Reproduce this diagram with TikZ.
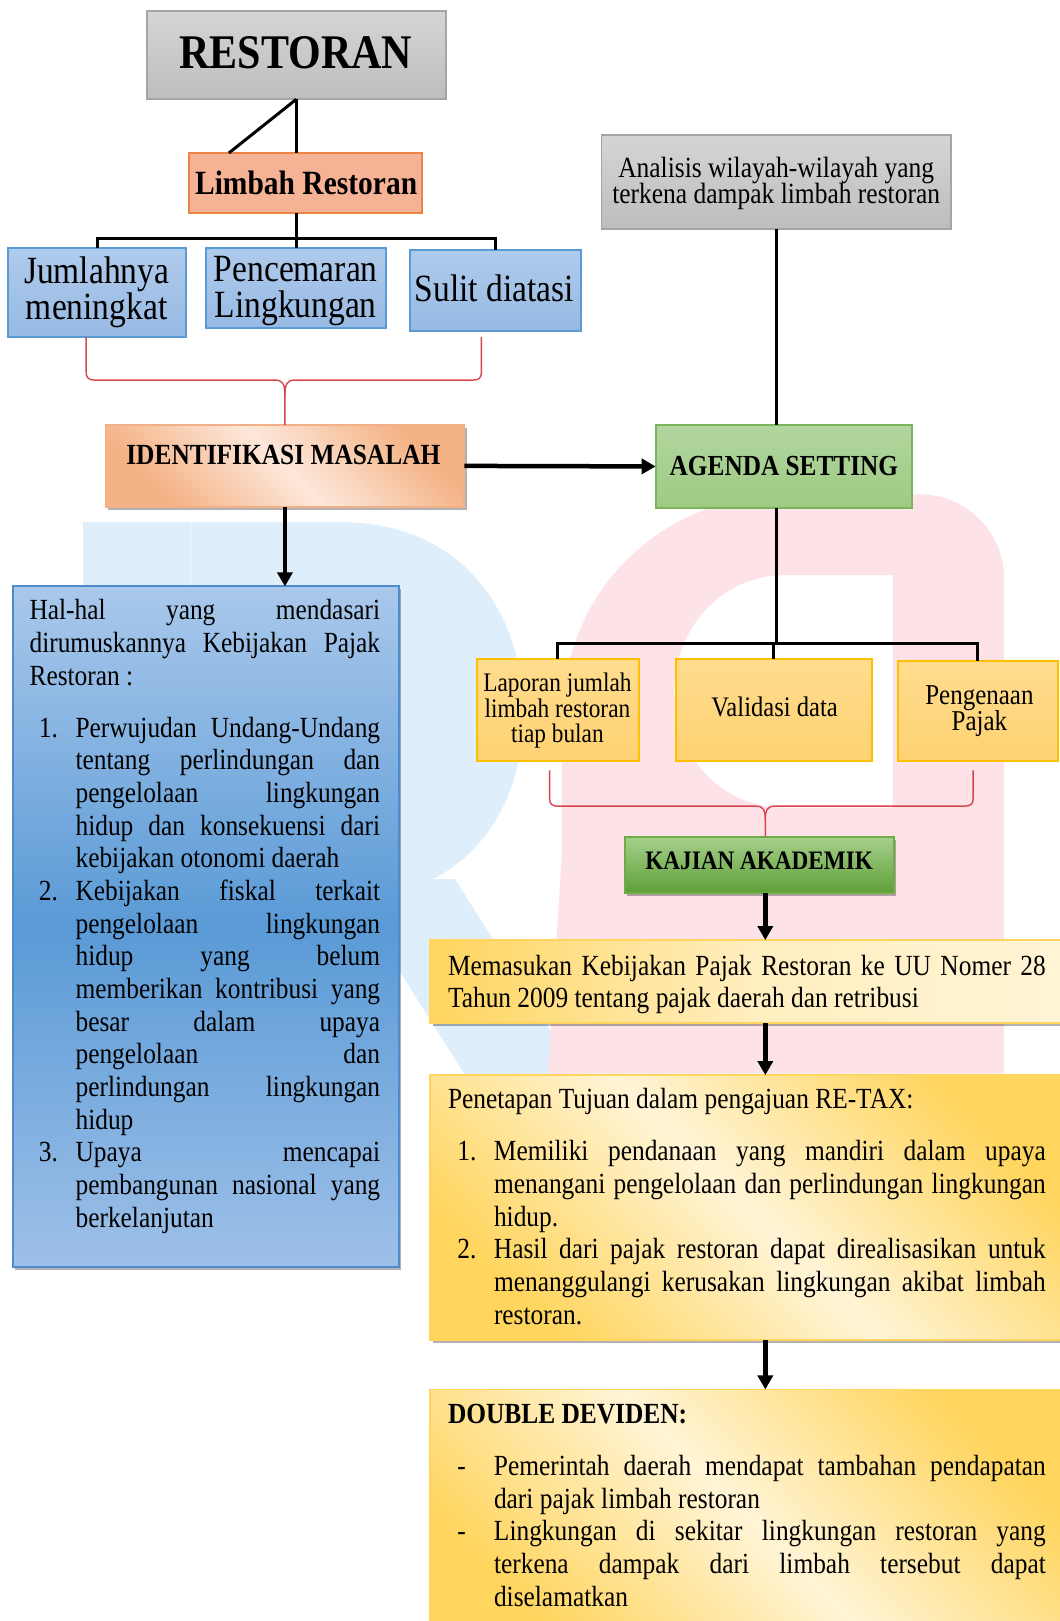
\documentclass[tikz,border=0pt]{standalone}
\usepackage{fontspec}
\setmainfont{Liberation Serif}
\usetikzlibrary{arrows.meta,shadows,fit,calc}
\definecolor{graytop}{HTML}{D5D5D5}
\definecolor{graybot}{HTML}{BDBDBD}
\definecolor{grayline}{HTML}{A5A5A5}
\definecolor{limfill}{HTML}{F5B294}
\definecolor{limline}{HTML}{EE8444}
\definecolor{bluetop}{HTML}{AFCBEC}
\definecolor{bluebot}{HTML}{97B9E3}
\definecolor{blueline}{HTML}{5B9BD5}
\definecolor{identA}{HTML}{F4B183}
\definecolor{identB}{HTML}{FDE8DB}
\definecolor{identline}{HTML}{F2B089}
\definecolor{greentop}{HTML}{B2D69F}
\definecolor{greenbot}{HTML}{9ECA83}
\definecolor{greenline}{HTML}{7AB55C}
\definecolor{yeltop}{HTML}{FFDC8E}
\definecolor{yelbot}{HTML}{FFD273}
\definecolor{yelline}{HTML}{FFC000}
\definecolor{kajtop}{HTML}{A6D08B}
\definecolor{kajbot}{HTML}{5E9F38}
\definecolor{kajline}{HTML}{6EAC47}
\definecolor{goldA}{HTML}{FFD55E}
\definecolor{goldB}{HTML}{FFF4D6}
\definecolor{bigtop}{HTML}{A9C8EB}
\definecolor{bigmid}{HTML}{5A9AD6}
\definecolor{bigbot}{HTML}{9EC0E8}
\definecolor{bigline}{HTML}{4F8BCB}
\definecolor{bracered}{HTML}{D9434E}
\definecolor{wmblue}{HTML}{DEEEFB}
\definecolor{wmpink}{HTML}{FDE3E7}
\tolerance=10000
\hbadness=10000
\hyphenpenalty=10000
\exhyphenpenalty=10000
\lineskiplimit=-50pt
\newcommand\fl{\rule{0pt}{0.75em}}
\newcommand\itm[2]{\par\hangindent=46pt\hangafter=1\noindent\hspace*{9.4pt}\makebox[36.6pt][l]{#1}#2\par}
\begin{document}
\begin{tikzpicture}[x=1.0342pt, y=-1.0342pt,
  ln/.style={line width=3pt},
  arr/.style={line width=4.5pt, -{Triangle[length=14pt,width=15pt]}},
  brace/.style={draw=bracered, line width=1.4pt},
  bx/.style={inner sep=0pt, outer sep=0pt, line width=1.8pt},
  shd/.style={drop shadow={shadow xshift=2.5pt, shadow yshift=-3pt, fill=black, opacity=0.3}},
  tx/.style={inner sep=0pt, yscale=1.15},
  body/.style={tx, anchor=north west, align=justify, font=\fontsize{25.4}{28.4}\selectfont}]
\useasboundingbox (0,0) rectangle (1024,1567.4);

% watermark
\fill[wmblue] (80,505) rectangle (185,1040);
\fill[wmblue] (185,505) -- (330,505) .. controls (445,505) and (506,590) .. (506,690) .. controls (506,790) and (445,870) .. (330,870) -- (185,870) -- cycle;
\fill[wmblue] (330,850) -- (440,850) -- (560,1040) -- (450,1040) -- cycle;
\fill[wmpink, even odd rule] (543,830) -- (543,700) .. controls (543,570) and (640,478) .. (765,478) -- (890,478) .. controls (935,478) and (971,515) .. (971,560) -- (971,1038) -- (530,1038) -- cycle
  (863,556) -- (760,556) .. controls (695,556) and (652,610) .. (652,668) .. controls (652,730) and (695,781) .. (760,781) -- (863,781) -- cycle;

% boxes
\node[bx, fit={(142,11) (431,96)}, draw=grayline, top color=graytop, bottom color=graybot] (rest) {};
\node[bx, fit={(183,148) (408,206)}, draw=limline, fill=limfill] (lim) {};
\node[bx, fit={(8,240) (180,326)}, draw=blueline, top color=bluetop, bottom color=bluebot] (jml) {};
\node[bx, fit={(199,240) (373.5,317)}, draw=blueline, top color=bluetop, bottom color=bluebot] (pcm) {};
\node[bx, fit={(396.6,241.7) (561.4,320)}, draw=blueline, top color=bluetop, bottom color=bluebot] (sul) {};
\node[bx, shd, fit={(102,411) (449,490)}, draw=identline, top color=identA, bottom color=identA, middle color=identB, shading angle=-45] (id) {};
\node[bx, fit={(581.6,130.5) (919.6,221.5)}, draw=grayline, top color=graytop, bottom color=graybot] (ana) {};
\node[bx, fit={(634,411) (882,491)}, draw=greenline, top color=greentop, bottom color=greenbot] (ag) {};
\node[bx, fit={(461,637) (618,736)}, draw=yelline, top color=yeltop, bottom color=yelbot] (lap) {};
\node[bx, fit={(653.6,637) (843,736)}, draw=yelline, top color=yeltop, bottom color=yelbot] (val) {};
\node[bx, fit={(868,639) (1023,736)}, draw=yelline, top color=yeltop, bottom color=yelbot] (peng) {};
\node[bx, shd, fit={(604,809) (864.4,863.6)}, draw=kajline, top color=kajtop, bottom color=kajbot] (kaj) {};
\node[bx, shd, fit={(12.3,567) (385.5,1225)}, draw=bigline, top color=bigtop, bottom color=bigbot, middle color=bigmid] (big) {};
\node[bx, shd, fit={(416,909) (1030,989.5)}, draw=goldA, left color=goldA, right color=goldB, middle color=goldB!80!goldA] (mem) {};
\node[bx, shd, fit={(416,1039.5) (1030,1296)}, draw=goldA, top color=goldA, bottom color=goldA, middle color=goldB, shading angle=-45] (tuj) {};
\node[bx, fit={(416,1343.5) (1030,1590)}, draw=goldA, top color=goldA, bottom color=goldA, middle color=goldB, shading angle=-45] (dbl) {};

% connectors
\draw[ln] (rest.south) -- (rest.south |- lim.north);
\draw[ln] (rest.south) -- ($(lim.north west)!0.17!(lim.north east)$);
\coordinate (bus1) at (286.5,231);
\draw[ln] (lim.south -| bus1) -- (bus1);
\draw[ln] (jml.north) |- (bus1);
\draw[ln] (sul.north) |- (bus1);
\draw[ln] (pcm.north) -- (pcm.north |- bus1);
\draw[ln] (ana.south) -- (ana.south |- ag.north);
\coordinate (bus2) at (750.6,622);
\draw[ln] (ag.south -| bus2) -- (bus2);
\draw[ln] (lap.north) |- (bus2);
\draw[ln] (peng.north) |- (bus2);
\draw[ln] (val.north) -- (val.north |- bus2);
\draw[arr] (id.east) -- (ag.west);
\draw[arr] (id.south) -- (id.south |- big.north);
\coordinate (ax) at (740,0);
\draw[arr] (kaj.south -| ax) -- (mem.north -| ax);
\draw[arr] (mem.south -| ax) -- (tuj.north -| ax);
\draw[arr] (tuj.south -| ax) -- (dbl.north -| ax);

% braces
\coordinate (b1l) at (83.3,326);
\coordinate (b1r) at (465.5,326);
\coordinate (b2l) at (531.4,745);
\coordinate (b2r) at (941,745);
\draw[brace] (b1l) -- (83.3,359) .. controls (83.3,366) and (86,367.5) .. (92,367.5) -- (266,367.5) .. controls (273,367.5) and (275.5,371) .. (275.5,382) -- (id.north);
\draw[brace] (b1r) -- (465.5,359) .. controls (465.5,366) and (463,367.5) .. (457,367.5) -- (285,367.5) .. controls (278,367.5) and (275.5,371) .. (275.5,382);
\draw[brace] (b2l) -- (531.4,772) .. controls (531.4,778) and (534,779.5) .. (540,779.5) -- (731,779.5) .. controls (738,779.5) and (740,783) .. (740,793) -- (kaj.north -| ax);
\draw[brace] (b2r) -- (941,772) .. controls (941,778) and (938,779.5) .. (932,779.5) -- (749,779.5) .. controls (742,779.5) and (740,783) .. (740,793);

% texts
\node[tx, anchor=base, font=\fontsize{42}{48}\selectfont\bfseries] (tRest) at (286,66) {RESTORAN};
\node[tx, anchor=base, font=\fontsize{29.5}{34}\selectfont\bfseries] (tLim) at (296,188.5) {Limbah Restoran};
\node[tx, anchor=north, align=center, font=\fontsize{33.5}{31.5}\selectfont] (tJml) at (93.5,246.1) {\fl Jumlahnya\\meningkat};
\node[tx, anchor=north, align=center, font=\fontsize{33.5}{31.5}\selectfont] (tPcm) at (286,244.1) {\fl Pencemaran\\Lingkungan};
\node[tx, anchor=base, font=\fontsize{33.5}{31.5}\selectfont] (tSul) at (478,292) {Sulit diatasi};
\node[tx, anchor=base, font=\fontsize{25.4}{30}\selectfont\bfseries] (tId) at (274,449.5) {IDENTIFIKASI MASALAH};
\node[tx, anchor=north, align=center, font=\fontsize{25.5}{23.4}\selectfont] (tAn) at (750.5,149.7) {\fl Analisis wilayah-wilayah yang\\terkena dampak limbah restoran};
\node[tx, anchor=base, font=\fontsize{25.3}{30}\selectfont\bfseries] (tAg) at (758,460) {AGENDA SETTING};
\node[tx, anchor=north, align=center, font=\fontsize{23.3}{21.8}\selectfont] (tLap) at (539,649.4) {\fl Laporan jumlah\\limbah restoran\\tiap bulan};
\node[tx, anchor=base, font=\fontsize{24.6}{28}\selectfont] (tVal) at (749,693) {Validasi data};
\node[tx, anchor=north, align=center, font=\fontsize{25}{23}\selectfont] (tPeng) at (947,659.9) {\fl Pengenaan\\Pajak};
\node[tx, anchor=base, font=\fontsize{23.2}{28}\selectfont\bfseries] (tKaj) at (734,841) {KAJIAN AKADEMIK};

\node[body, text width=350.6pt] (tBig) at (28.4,577.8) {\noindent\fl Hal-hal yang mendasari\linebreak dirumuskannya Kebijakan Pajak\linebreak Restoran :\par\vskip16.9pt
\itm{1.}{Perwujudan Undang-Undang\linebreak tentang perlindungan dan\linebreak pengelolaan lingkungan\linebreak hidup dan konsekuensi dari\linebreak kebijakan otonomi daerah}
\itm{2.}{Kebijakan fiskal terkait\linebreak pengelolaan lingkungan\linebreak hidup yang belum\linebreak memberikan kontribusi yang\linebreak besar dalam upaya\linebreak pengelolaan dan\linebreak perlindungan lingkungan\linebreak hidup}
\itm{3.}{Upaya mencapai\linebreak pembangunan nasional yang\linebreak berkelanjutan}};

\node[body, text width=597.8pt] (tMem) at (433,921.5) {\noindent\fl Memasukan Kebijakan Pajak Restoran ke UU Nomer 28\linebreak Tahun 2009 tentang pajak daerah dan retribusi};

\node[body, text width=597.8pt] (tTuj) at (433,1050.8) {\noindent\fl Penetapan Tujuan dalam pengajuan RE-TAX:\par\vskip16.9pt
\itm{1.}{Memiliki pendanaan yang mandiri dalam upaya\linebreak menangani pengelolaan dan perlindungan lingkungan\linebreak hidup.}
\itm{2.}{Hasil dari pajak restoran dapat direalisasikan untuk\linebreak menanggulangi kerusakan lingkungan akibat limbah\linebreak restoran.}};

\node[body, text width=597.8pt] (tDbl) at (433,1354.8) {\noindent\fl\textbf{DOUBLE DEVIDEN:}\par\vskip16.9pt
\itm{-}{Pemerintah daerah mendapat tambahan pendapatan\linebreak dari pajak limbah restoran}
\itm{-}{Lingkungan di sekitar lingkungan restoran yang\linebreak terkena dampak dari limbah tersebut dapat\linebreak diselamatkan}};
\end{tikzpicture}
\end{document}
